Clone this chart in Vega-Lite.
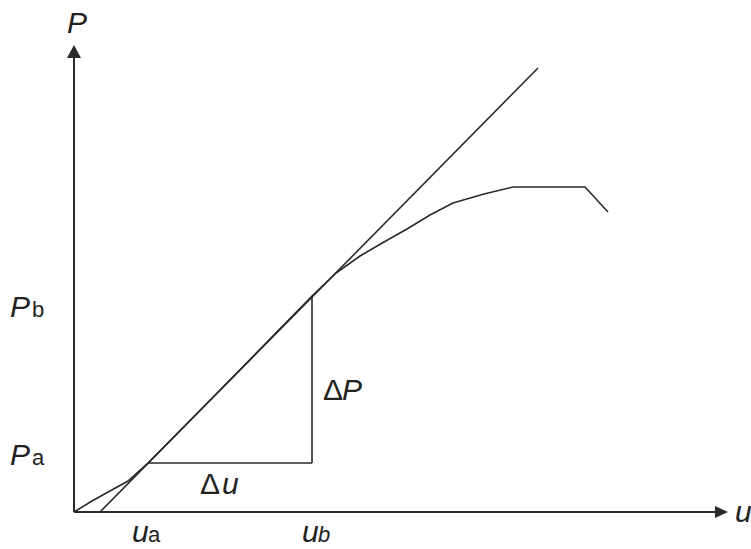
{
  "$schema": "https://vega.github.io/schema/vega-lite/v6.json",
  "width": 656,
  "height": 467,
  "autosize": "none",
  "padding": {"left": 74, "top": 45, "right": 21, "bottom": 37},
  "background": "white",
  "config": {"view": {"stroke": null}},
  "datasets": {
    "curve": [
      {"u": 0, "P": 0}, {"u": 18, "P": 11}, {"u": 36, "P": 21}, {"u": 54, "P": 31},
      {"u": 74, "P": 49}, {"u": 150, "P": 126}, {"u": 238, "P": 216}, {"u": 262, "P": 239},
      {"u": 286, "P": 256}, {"u": 310, "P": 270}, {"u": 333, "P": 283}, {"u": 356, "P": 297},
      {"u": 379, "P": 309}, {"u": 410, "P": 318}, {"u": 439, "P": 325}, {"u": 511, "P": 325},
      {"u": 534, "P": 300}
    ],
    "secant": [{"u": 26, "P": 0}, {"u": 464, "P": 444}],
    "segments": [
      {"u": 74, "P": 49, "u2": 238, "P2": 49},
      {"u": 238, "P": 49, "u2": 238, "P2": 216}
    ],
    "axes": [
      {"u": 0, "P": 0, "u2": 0, "P2": 458},
      {"u": 0, "P": 0, "u2": 645, "P2": 0}
    ],
    "arrowUp": [{"u": 0, "P": 467}],
    "arrowRight": [{"u": 654, "P": 0}],
    "italic": [
      {"t": "P", "u": -7, "P": 479}, {"t": "u", "u": 661, "P": -10},
      {"t": "P", "u": -64, "P": 195}, {"t": "P", "u": -64, "P": 47},
      {"t": "P", "u": 268, "P": 112}, {"t": "u", "u": 148, "P": 18},
      {"t": "u", "u": 58, "P": -30}, {"t": "u", "u": 228, "P": -30}
    ],
    "upright": [{"t": "Δ", "u": 249, "P": 112}, {"t": "Δ", "u": 126, "P": 18}],
    "subs": [{"t": "b", "u": -42, "P": 195}, {"t": "a", "u": -42, "P": 47}, {"t": "a", "u": 74, "P": -30}],
    "subsItalic": [{"t": "b", "u": 244, "P": -30}]
  },
  "encoding": {
    "x": {"field": "u", "type": "quantitative", "scale": {"domain": [0, 656], "nice": false, "zero": false}, "axis": null},
    "y": {"field": "P", "type": "quantitative", "scale": {"domain": [0, 467], "nice": false, "zero": false}, "axis": null}
  },
  "layer": [
    {"data": {"name": "axes"}, "mark": {"type": "rule", "color": "#2a2a2a", "strokeWidth": 2},
     "encoding": {"x2": {"field": "u2"}, "y2": {"field": "P2"}}},
    {"data": {"name": "arrowUp"}, "mark": {"type": "point", "shape": "M0,0L-0.54,1L0.54,1Z", "size": 676, "filled": true, "color": "#2a2a2a", "opacity": 1}},
    {"data": {"name": "arrowRight"}, "mark": {"type": "point", "shape": "M0,0L-1,-0.46L-1,0.46Z", "size": 676, "filled": true, "color": "#2a2a2a", "opacity": 1}},
    {"data": {"name": "curve"}, "mark": {"type": "line", "color": "#2a2a2a", "strokeWidth": 1.6}},
    {"data": {"name": "secant"}, "mark": {"type": "line", "color": "#2a2a2a", "strokeWidth": 1.6}},
    {"data": {"name": "segments"}, "mark": {"type": "rule", "color": "#2a2a2a", "strokeWidth": 1.6},
     "encoding": {"x2": {"field": "u2"}, "y2": {"field": "P2"}}},
    {"data": {"name": "italic"}, "mark": {"type": "text", "font": "Liberation Sans", "fontStyle": "italic", "fontSize": 30, "align": "left", "baseline": "alphabetic", "color": "#222"},
     "encoding": {"text": {"field": "t"}}},
    {"data": {"name": "upright"}, "mark": {"type": "text", "font": "Liberation Sans", "fontSize": 30, "align": "left", "baseline": "alphabetic", "color": "#222"},
     "encoding": {"text": {"field": "t"}}},
    {"data": {"name": "subs"}, "mark": {"type": "text", "font": "Liberation Sans", "fontSize": 22, "align": "left", "baseline": "alphabetic", "color": "#222"},
     "encoding": {"text": {"field": "t"}}},
    {"data": {"name": "subsItalic"}, "mark": {"type": "text", "font": "Liberation Sans", "fontStyle": "italic", "fontSize": 22, "align": "left", "baseline": "alphabetic", "color": "#222"},
     "encoding": {"text": {"field": "t"}}}
  ]
}
